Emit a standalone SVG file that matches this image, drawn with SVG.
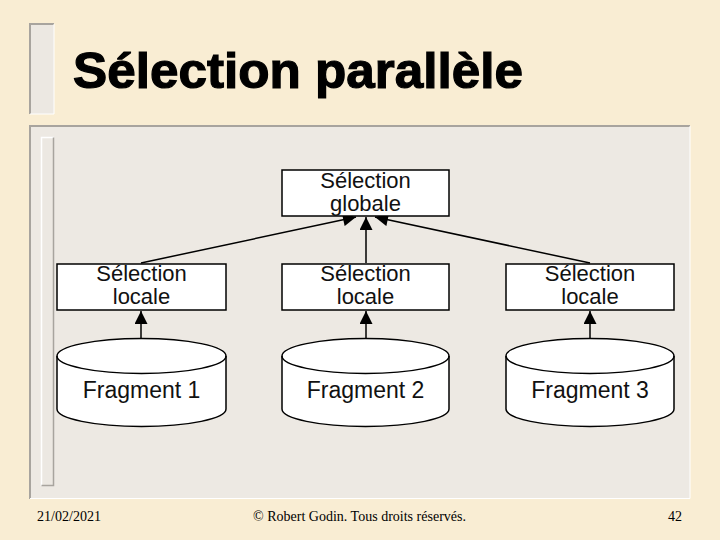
<svg xmlns="http://www.w3.org/2000/svg" width="720" height="540" viewBox="0 0 720 540">
<defs>
<style>
.box{fill:#ffffff;stroke:#000;stroke-width:1.5}
.lbl{font-family:"Liberation Sans",Arial,sans-serif;font-size:22px;fill:#111;text-anchor:middle}
.frag{font-size:23px}
.edge{stroke:#000;stroke-width:1.5;fill:none}
.foot{font-family:"Liberation Serif","Times New Roman",serif;font-size:14px;fill:#000}
</style>
<marker id="arrL" viewBox="0 0 10 10" refX="10" refY="5" markerWidth="14" markerHeight="13" markerUnits="userSpaceOnUse" orient="auto">
<path d="M0,0 L10,5 L0,10 z" fill="#000"/>
</marker>
</defs>
<rect x="0" y="0" width="720" height="540" fill="#F9EDD3"/>
<!-- title bar -->
<g id="title-bar">
<rect x="29" y="23" width="25" height="91" fill="#ECE8E2"/>
<path d="M30 114 V24 H54" stroke="#A8A49E" stroke-width="2" fill="none"/>
<path d="M54 24 V114 H30" stroke="#FFFFFF" stroke-width="1" fill="none"/>
</g>
<text x="73" y="88" font-family="'Liberation Sans',Arial,sans-serif" font-size="50" font-weight="bold" stroke="#000" stroke-width="1.2" fill="#000" textLength="450" lengthAdjust="spacingAndGlyphs">Sélection parallèle</text>
<!-- panel -->
<g id="panel">
<rect x="29" y="125" width="661" height="374" fill="#EDE9E3"/>
<path d="M30 499 V126 H690" stroke="#A8A49E" stroke-width="2" fill="none"/>
<path d="M690 126 V498.5 H30" stroke="#FFFFFF" stroke-width="1" fill="none"/>
<rect x="41" y="137" width="13" height="349" fill="#ECE8E2"/>
<path d="M41.5 486 V137.5 H54" stroke="#FFFFFF" stroke-width="1.5" fill="none"/>
<path d="M53.5 137.5 V485.5 H41.5" stroke="#A8A49E" stroke-width="1.5" fill="none"/>
</g>
<!-- connectors -->
<g id="connectors">
<line class="edge" x1="141" y1="263" x2="356" y2="217" marker-end="url(#arrL)"/>
<line class="edge" x1="366" y1="263" x2="366" y2="217" marker-end="url(#arrL)"/>
<line class="edge" x1="590" y1="263" x2="375" y2="217" marker-end="url(#arrL)"/>
<line class="edge" x1="141" y1="338" x2="141" y2="311" marker-end="url(#arrL)"/>
<line class="edge" x1="366" y1="338" x2="366" y2="311" marker-end="url(#arrL)"/>
<line class="edge" x1="590" y1="338" x2="590" y2="311" marker-end="url(#arrL)"/>
</g>
<!-- nodes -->
<g id="global">
<rect class="box" x="282" y="170" width="167" height="46"/>
<text class="lbl" x="365.5" y="188">Sélection</text>
<text class="lbl" x="365.5" y="211">globale</text>
</g>
<g id="local1">
<rect class="box" x="57" y="264" width="169" height="46"/>
<text class="lbl" x="141.5" y="281">Sélection</text>
<text class="lbl" x="141.5" y="304">locale</text>
</g>
<g id="local2">
<rect class="box" x="282" y="264" width="167" height="46"/>
<text class="lbl" x="365.5" y="281">Sélection</text>
<text class="lbl" x="365.5" y="304">locale</text>
</g>
<g id="local3">
<rect class="box" x="506" y="264" width="168" height="46"/>
<text class="lbl" x="590" y="281">Sélection</text>
<text class="lbl" x="590" y="304">locale</text>
</g>
<g id="frag1">
<path class="box" d="M57 356 A84.5 17.5 0 0 1 226 356 V409 A84.5 17.5 0 0 1 57 409 Z"/>
<path class="edge" d="M57 356 A84.5 17.5 0 0 0 226 356"/>
<text class="lbl frag" x="141.5" y="398">Fragment 1</text>
</g>
<g id="frag2">
<path class="box" d="M282 356 A83.5 17.5 0 0 1 449 356 V409 A83.5 17.5 0 0 1 282 409 Z"/>
<path class="edge" d="M282 356 A83.5 17.5 0 0 0 449 356"/>
<text class="lbl frag" x="365.5" y="398">Fragment 2</text>
</g>
<g id="frag3">
<path class="box" d="M506 356 A84 17.5 0 0 1 674 356 V409 A84 17.5 0 0 1 506 409 Z"/>
<path class="edge" d="M506 356 A84 17.5 0 0 0 674 356"/>
<text class="lbl frag" x="590" y="398">Fragment 3</text>
</g>
<!-- footer -->
<text class="foot" x="37" y="521" textLength="64" lengthAdjust="spacingAndGlyphs">21/02/2021</text>
<text class="foot" x="253" y="521" textLength="213" lengthAdjust="spacingAndGlyphs">© Robert Godin. Tous droits réservés.</text>
<text class="foot" x="668" y="521" textLength="14" lengthAdjust="spacingAndGlyphs">42</text>
</svg>
